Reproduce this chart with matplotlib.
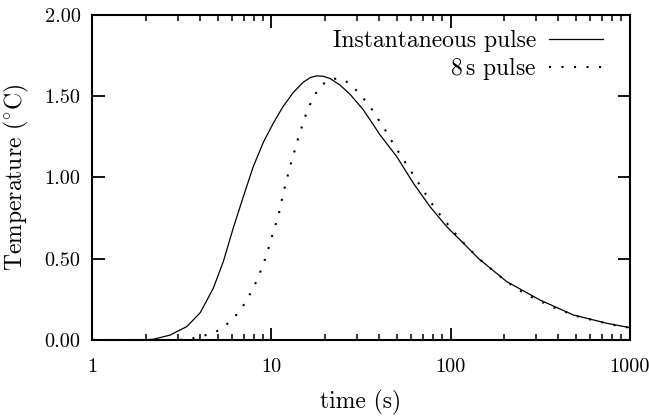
import matplotlib
matplotlib.use("Agg")
import matplotlib.pyplot as plt
from matplotlib.ticker import FixedLocator, FixedFormatter, LogLocator, NullFormatter

plt.rcParams['font.family'] = 'serif'
plt.rcParams['font.serif'] = ['cmr10', 'DejaVu Serif']
plt.rcParams['mathtext.fontset'] = 'cm'
plt.rcParams['axes.unicode_minus'] = False

# Instantaneous pulse (solid)
t_inst = [1, 1.5, 2, 2.2, 2.71, 3.36, 4.0, 4.73, 5.38, 6.12, 6.96, 7.91, 9.0, 10.2,
          11.6, 13.24, 15.06, 16.5, 17.9, 19.5, 21.2, 24.1, 27.4, 32.6, 40.4, 50.1, 62,
          76.8, 95.2, 118, 143, 206, 316, 485, 746, 1000]
T_inst = [0.0, 0.0, 0.002, 0.005, 0.03, 0.082, 0.168, 0.318, 0.482, 0.69, 0.881, 1.066,
          1.215, 1.33, 1.435, 1.522, 1.585, 1.614, 1.624, 1.621, 1.608, 1.568, 1.512,
          1.415, 1.261, 1.127, 0.964, 0.82, 0.697, 0.595, 0.502, 0.359, 0.246, 0.154,
          0.103, 0.076]

# 8 s pulse (dotted)
t_pulse = [1, 2, 3, 3.5, 3.95, 4.73, 5.38, 6.07, 6.73, 7.3, 7.85, 8.37, 8.88, 9.35, 9.77,
           10.2, 10.7, 11.15, 11.5, 11.94, 12.4, 12.9, 13.5, 14.06, 14.75, 15.5, 16.4,
           17.66, 19.15, 21.2, 24.1, 27.2, 29.9, 32.6, 35.2, 37.9, 40.5, 43.5, 46.5,
           49.9, 53.4, 56.9, 60.7, 64.7, 69.3, 74.2, 79.1, 84.8, 91.2, 98.1, 106, 114,
           123, 133, 144, 157, 171, 186, 203, 223, 244, 271, 302, 336, 375, 420, 471,
           529, 600, 679, 771, 877, 1000]
T_pulse = [0, 0, 0, 0.005, 0.02, 0.041, 0.078, 0.129, 0.185, 0.25, 0.312, 0.379, 0.449,
           0.518, 0.589, 0.66, 0.732, 0.804, 0.879, 0.951, 1.023, 1.095, 1.167, 1.238,
           1.308, 1.38, 1.447, 1.515, 1.568, 1.603, 1.609, 1.579, 1.533, 1.486, 1.439,
           1.39, 1.337, 1.285, 1.23, 1.177, 1.124, 1.078, 1.031, 0.982, 0.933, 0.881,
           0.835, 0.787, 0.746, 0.701, 0.656, 0.615, 0.578, 0.539, 0.5, 0.467, 0.43,
           0.398, 0.365, 0.332, 0.303, 0.275, 0.248, 0.226, 0.201, 0.18, 0.16, 0.141,
           0.127, 0.113, 0.098, 0.086, 0.076]

x_ticks = [1, 10, 100, 1000]
x_tick_labels = ['1', '10', '100', '1000']
y_ticks = [0.0, 0.5, 1.0, 1.5, 2.0]
y_tick_labels = ['0.00', '0.50', '1.00', '1.50', '2.00']

labels = ['Instantaneous pulse', '8$\\,$s pulse']

fig = plt.figure(figsize=(6.49, 4.16), dpi=100)
ax = fig.add_axes([0.1425, 0.1827, 0.970 - 0.1425, 0.9647 - 0.1827])

ax.plot(t_inst, T_inst, color='black', lw=0.9, label=labels[0])
ax.plot(t_pulse, T_pulse, color='black', lw=1.5, linestyle=(0, (1, 5)), label=labels[1])

ax.set_xscale('log')
ax.set_xlim(1, 1000)
ax.set_ylim(0, 2.0)

ax.xaxis.set_major_locator(FixedLocator(x_ticks))
ax.xaxis.set_major_formatter(FixedFormatter(x_tick_labels))
ax.xaxis.set_minor_locator(LogLocator(base=10, subs=range(2, 10)))
ax.xaxis.set_minor_formatter(NullFormatter())
ax.yaxis.set_major_locator(FixedLocator(y_ticks))
ax.yaxis.set_major_formatter(FixedFormatter(y_tick_labels))

ax.tick_params(which='major', direction='in', length=9, width=1.3, top=True, right=True,
               labelsize=14.6)
ax.tick_params(axis='x', which='major', pad=13)
ax.tick_params(axis='y', which='major', pad=8.5)
ax.tick_params(which='minor', direction='in', length=4.5, width=1.1, top=True, right=True)
for s in ax.spines.values():
    s.set_linewidth(1.5)

ax.set_xlabel('time (s)', fontsize=17, labelpad=10)
ax.set_ylabel('Temperature ($^{\\circ}$C)', fontsize=17, labelpad=10)

leg = ax.legend(loc='upper right', bbox_to_anchor=(0.9507, 0.952), frameon=False,
                markerfirst=False, fontsize=17, handlelength=2.3, handletextpad=0.55,
                labelspacing=0.1, borderaxespad=0.0, borderpad=0.0)

fig.savefig('out.png', dpi=100)
